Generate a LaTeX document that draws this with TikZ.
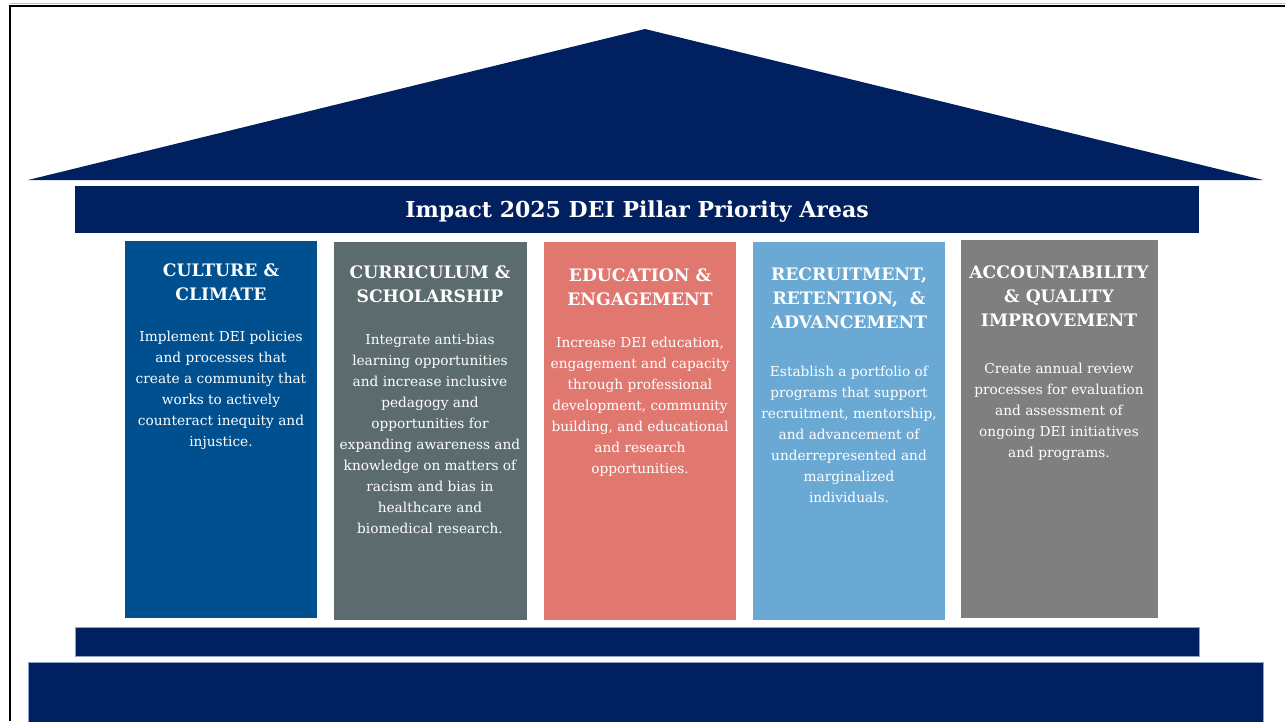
\documentclass[tikz,border=0pt]{standalone}
\usepackage{fontspec}
\setmainfont{DejaVu Serif}
\definecolor{navy}{HTML}{002060}
\definecolor{edgeblue}{HTML}{8FA3C8}
\definecolor{cA}{HTML}{00508F}
\definecolor{cB}{HTML}{5B6B6E}
\definecolor{cC}{HTML}{E07870}
\definecolor{cD}{HTML}{6BA9D5}
\definecolor{cE}{HTML}{7F7F7F}
\tikzset{
  pillar/.style={draw=none, inner sep=0pt},
  ptitle/.style={text=white, align=center, inner sep=0pt, font=\fontsize{17.2}{24}\selectfont\bfseries},
  pbody/.style={text=white, align=center, inner sep=0pt, font=\fontsize{13.7}{21}\selectfont},
  bar/.style={fill=navy, draw=edgeblue, line width=0.6pt, inner sep=0pt}
}
\begin{document}
\begin{tikzpicture}[x=1pt,y=-1pt]
\useasboundingbox (0,0) rectangle (1285,721);
\fill[white] (0,0) rectangle (1285,721);
% frame
\draw[black!25, line width=1pt] (10,3.5) -- (1285,3.5);
\draw[black, line width=2pt] (10,721) -- (10,6) -- (1285,6);
% roof
\fill[navy] (28,180) -- (645,29) -- (1263,180) -- cycle;
% title bar
\node[fill=navy, inner sep=0pt, minimum width=1124pt, minimum height=47pt] (title) at (637,209.5) {};
\node[text=white, font=\fontsize{22}{26}\selectfont\bfseries, inner sep=0pt] (titletext) at (637,212) {Impact 2025 DEI Pillar Priority Areas};
% pillars
\node[pillar, fill=cA, minimum width=192pt, minimum height=377pt] (p1) at (221,429.5) {};
\node[pillar, fill=cB, minimum width=193pt, minimum height=378pt] (p2) at (430.5,431) {};
\node[pillar, fill=cC, minimum width=192pt, minimum height=378pt] (p3) at (640,431) {};
\node[pillar, fill=cD, minimum width=192pt, minimum height=378pt] (p4) at (849,431) {};
\node[pillar, fill=cE, minimum width=197pt, minimum height=378pt] (p5) at (1059.5,429) {};
% titles
\node[ptitle] (t1) at (221,282) {CULTURE \&\\CLIMATE};
\node[ptitle] (t2) at (430,284) {CURRICULUM \&\\SCHOLARSHIP};
\node[ptitle] (t3) at (640,287) {EDUCATION \&\\ENGAGEMENT};
\node[ptitle] (t4) at (849,298.5) {RECRUITMENT,\\RETENTION,\ \ \&\\ADVANCEMENT};
\node[ptitle] (t5) at (1059,296.5) {ACCOUNTABILITY\\\& QUALITY\\IMPROVEMENT};
% bodies
\node[pbody] (b1) at (221,390) {Implement DEI policies\\and processes that\\create a community that\\works to actively\\counteract inequity and\\injustice.};
\node[pbody] (b2) at (430,434) {Integrate anti-bias\\learning opportunities\\and increase inclusive\\pedagogy and\\opportunities for\\expanding awareness and\\knowledge on matters of\\racism and bias in\\healthcare and\\biomedical research.};
\node[pbody] (b3) at (640,407) {Increase DEI education,\\engagement and capacity\\through professional\\development, community\\building, and educational\\and research\\opportunities.};
\node[pbody] (b4) at (849,434.5) {Establish a portfolio of\\programs that support\\recruitment, mentorship,\\and advancement of\\underrepresented and\\marginalized\\individuals.};
\node[pbody] (b5) at (1059,412) {Create annual review\\processes for evaluation\\and assessment of\\ongoing DEI initiatives\\and programs.};
% base
\node[bar, minimum width=1124pt, minimum height=29pt] (base1) at (637,641.5) {};
\node[bar, minimum width=1235pt, minimum height=60pt] (base2) at (645.5,692) {};
\end{tikzpicture}
\end{document}
